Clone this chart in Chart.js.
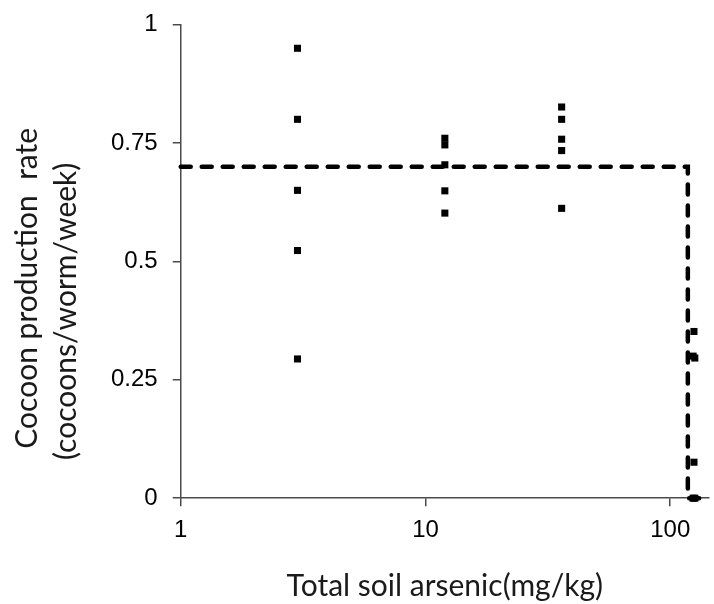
<!DOCTYPE html>
<html>
<head>
<meta charset="utf-8">
<script src="https://cdn.jsdelivr.net/npm/chart.js@4.4.1/dist/chart.umd.min.js"></script>
<style>
    html, body { margin: 0; padding: 0; background: #fff; }
    #wrap { width: 714px; height: 604px; }
</style>
</head>
<body>
<div id="wrap"><canvas id="myChart"></canvas></div>
<script>
// arsenic dose per soil (mg/kg) and cocoons per worm per week
var soilArsenic = [3, 3, 3, 3, 3,
                   12, 12, 12, 12, 12,
                   36, 36, 36, 36, 36,
                   125, 124, 126, 125, 124, 126];
var cocoonRate  = [0.95, 0.80, 0.65, 0.523, 0.294,
                   0.76, 0.746, 0.704, 0.649, 0.602,
                   0.826, 0.80, 0.758, 0.734, 0.612,
                   0.352, 0.30, 0.296, 0.076, 0, 0];

// threshold step line
var stepX = [1, 118, 118, 144];
var stepY = [0.7, 0.7, 0, 0];

var xTicks = [1, 10, 100];
var yTicks = [0, 0.25, 0.5, 0.75, 1];

var points = [];
soilArsenic.forEach(function (x, i) {
    points.push({ x: x, y: cocoonRate[i] });
});
var step = [];
stepX.forEach(function (x, i) {
    step.push({ x: x, y: stepY[i] });
});

// trailing blanks push the rotated title lines a bit lower
function pad(n) {
    return new Array(n + 1).join('\u00a0');
}

var axisColor = '#4a4a4a';
var tickFamily = "'Liberation Sans', Arial, sans-serif";
var titleFamily = "Lato, 'Open Sans', sans-serif";

//---------------------------------------
const ctx = document.getElementById('myChart');
const myChart = new Chart(ctx, {
    type: 'scatter',
    data: {
        datasets: [{
            label: 'threshold',
            type: 'line',
            data: step,
            borderColor: '#000',
            borderWidth: 4.5,
            borderDash: [10, 11],
            borderCapStyle: 'round',
            pointRadius: 0,
            fill: false,
            tension: 0,
            clip: false
        }, {
            label: 'cocoons',
            data: points,
            pointStyle: 'rect',
            pointRadius: 5,
            pointBorderWidth: 0,
            backgroundColor: '#000',
            borderColor: '#000',
            clip: false
        }]
    },
    options: {
        responsive: true,
        maintainAspectRatio: false,
        animation: false,
        layout: {
            padding: { top: 15, right: -10, bottom: 0, left: 0 }
        },
        plugins: {
            legend: { display: false },
            tooltip: { enabled: false }
        },
        scales: {
            x: {
                type: 'logarithmic',
                min: 1,
                max: 144,
                afterBuildTicks: function (scale) {
                    scale.ticks = xTicks.map(function (v) { return { value: v }; });
                },
                ticks: {
                    color: '#000',
                    font: { family: tickFamily, size: 24 },
                    padding: 10,
                    maxRotation: 0,
                    callback: function (v) { return String(v); }
                },
                grid: {
                    drawOnChartArea: false,
                    drawTicks: true,
                    tickLength: 8,
                    color: axisColor,
                    lineWidth: 1.5
                },
                border: { color: axisColor, width: 1.5 },
                title: {
                    display: true,
                    text: 'Total soil arsenic(mg/kg)',
                    color: '#1a1a1a',
                    font: { family: titleFamily, size: 30, lineHeight: 1.2 },
                    padding: { top: 13, bottom: 0 }
                }
            },
            y: {
                min: 0,
                max: 1,
                afterBuildTicks: function (scale) {
                    scale.ticks = yTicks.map(function (v) { return { value: v }; });
                },
                ticks: {
                    color: '#000',
                    font: { family: tickFamily, size: 24, lineHeight: 0.8 },
                    padding: 15,
                    callback: function (v) { return String(v); }
                },
                grid: {
                    drawOnChartArea: false,
                    drawTicks: true,
                    tickLength: 8,
                    color: axisColor,
                    lineWidth: 1.5
                },
                border: { color: axisColor, width: 1.5 },
                title: {
                    display: true,
                    text: ['Cocoon production  rate' + pad(7), '(cocoons/worm/week)' + pad(13)],
                    color: '#1a1a1a',
                    font: { family: titleFamily, size: 30, lineHeight: 1.3 },
                    padding: { top: 8, bottom: 10 }
                }
            }
        }
    }
});
//---------------------------------------
</script>
</body>
</html>
